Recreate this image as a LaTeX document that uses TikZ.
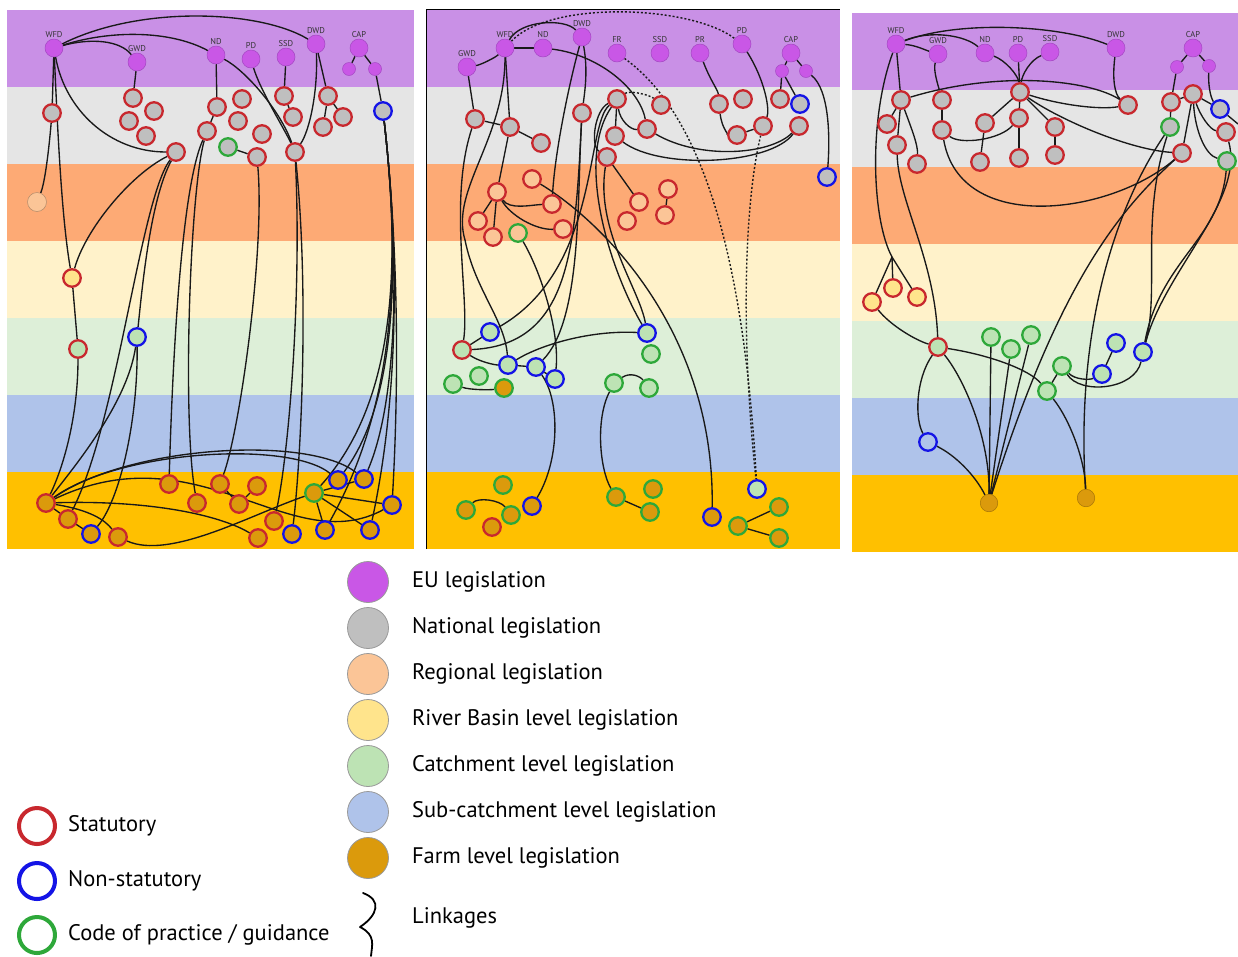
\documentclass[tikz,border=0pt]{standalone}
\usepackage{fontspec}
\setmainfont{PT Sans}
\usetikzlibrary{positioning}

\definecolor{bpur}{HTML}{C990E6}
\definecolor{bgry}{HTML}{E5E5E5}
\definecolor{bora}{HTML}{FDAA75}
\definecolor{byel}{HTML}{FFF2CA}
\definecolor{bgrn}{HTML}{DDEFD8}
\definecolor{bblu}{HTML}{AFC3EA}
\definecolor{bgld}{HTML}{FFC000}
\definecolor{eufill}{HTML}{C957E6}
\definecolor{eudraw}{HTML}{A447C2}
\definecolor{natfill}{HTML}{BFBFBF}
\definecolor{regfill}{HTML}{FBC597}
\definecolor{rbfill}{HTML}{FFE48C}
\definecolor{catfill}{HTML}{BDE3B4}
\definecolor{subfill}{HTML}{AFC3EA}
\definecolor{farmfill}{HTML}{DB9A0C}
\definecolor{statred}{HTML}{C8282E}
\definecolor{nstatblue}{HTML}{1414E6}
\definecolor{copgreen}{HTML}{2EA83A}

\pgfdeclarelayer{bands}
\pgfdeclarelayer{links}
\pgfsetlayers{bands,links,main}

% seven level bands of one panel: left, right, top
\newcommand{\lawbands}[3]{%
  \foreach \c [count=\i from 0] in {bpur,bgry,bora,byel,bgrn,bblu,bgld}
    \fill[\c] (#1,{#3+77*\i}) rectangle (#2,{#3+77*\i+77});
}

\begin{document}
\begin{tikzpicture}[x=1pt, y=-1pt, line cap=round, line join=round]
  \tikzset{
    law/.style={circle, inner sep=0pt, minimum size=17.5pt, line width=2.3pt},
    stat/.style={law, draw=statred},
    nstat/.style={law, draw=nstatblue},
    cop/.style={law, draw=copgreen},
    plain/.style={law, line width=0.5pt},
    eu/.style={circle, inner sep=0pt, minimum size=18pt, fill=eufill, draw=eudraw, line width=0.5pt},
    eusmall/.style={eu, minimum size=13pt},
    eulab/.style={font=\fontsize{8.5}{9}\selectfont, inner sep=1pt, text=black!80},
    natl/.style={fill=natfill}, regl/.style={fill=regfill}, rbl/.style={fill=rbfill},
    catl/.style={fill=catfill}, subl/.style={fill=subfill}, farml/.style={fill=farmfill},
    link/.style={draw=black!90, line width=1.35pt},
    dotlink/.style={link, line width=1.4pt, dash pattern=on 2pt off 2pt},
    legtxt/.style={font=\fontsize{22.5}{24}\selectfont, inner sep=0pt, anchor=west, text=black},
    legring/.style={circle, inner sep=0pt, minimum size=36pt, line width=4pt},
    legdot/.style={circle, inner sep=0pt, minimum size=41pt, draw=black!40, line width=0.8pt}
  }
  \useasboundingbox (0,0) rectangle (1238,956);

  \begin{pgfonlayer}{bands}
    \fill[white] (0,0) rectangle (1238,956);
    \lawbands{7}{414}{10}
    \lawbands{427}{840}{10}
    \lawbands{852}{1238}{13}
    \draw[black, line width=1.2pt] (426.5,549) -- (426.5,9.5) -- (840,9.5);
  \end{pgfonlayer}

  % ---------- panel 1 ----------
  \node[eu, label={[eulab]above:WFD}] (aWFD) at (54,48) {};
  \node[eu, label={[eulab]above:GWD}] (aGWD) at (137,62) {};
  \node[eu, label={[eulab]above:ND}] (aND) at (216,55) {};
  \node[eu, label={[eulab]above:PD}] (aPD) at (251,59) {};
  \node[eu, label={[eulab]above:SSD}] (aSSD) at (286,57) {};
  \node[eu, label={[eulab]above:DWD}] (aDWD) at (316,44) {};
  \node[eu, label={[eulab]above:CAP}] (aCAP) at (359,48) {};
  \node[eusmall] (aCAPl) at (349,69) {};
  \node[eusmall] (aCAPr) at (375,69) {};

  \foreach \n/\x/\y in {a1/52/113, a2/133/98, a3/154/111, a4/129/121, a5/146/136,
      a6/176/152, a7/217/107, a8/242/99, a9/238/121, a10/207/131, a11/262/134,
      a13/257/157, a14/284/96, a15/293/117, a16/295/152, a17/328/96, a18/343/117, a19/323/127}
    \node[stat, natl] (\n) at (\x,\y) {};
  \node[cop, natl] (a12) at (228,147) {};
  \node[nstat, natl] (a20) at (383,111) {};
  \node[plain, regl, draw=regfill!70!black, minimum size=19pt] (aR) at (37,202) {};
  \node[stat, rbl] (aY) at (72,278) {};
  \node[stat, catl] (aC1) at (78,349) {};
  \node[nstat, catl] (aC2) at (137,337) {};
  \foreach \n/\x/\y in {aF1/46/503, aF2/68/519, aF4/118/537, aF5/169/484, aF6/197/503,
      aF7/220/484, aF8/257/486, aF9/239/504, aF10/274/521, aF11/258/538}
    \node[stat, farml] (\n) at (\x,\y) {};
  \foreach \n/\x/\y in {aF3/91/534, aF12/292/534, aF14/338/480, aF15/364/479,
      aF16/392/505, aF17/325/530, aF18/370/530}
    \node[nstat, farml] (\n) at (\x,\y) {};
  \node[cop, farml] (aF13) at (314,493) {};

  % ---------- panel 2 ----------
  \node[eu, label={[eulab]above:GWD}] (bGWD) at (467,67) {};
  \node[eu, label={[eulab]above:WFD}] (bWFD) at (505,48) {};
  \node[eu, label={[eulab]above:ND}] (bND) at (543,48) {};
  \node[eu, label={[eulab]above:DWD}] (bDWD) at (582,37) {};
  \node[eu, label={[eulab]above:FR}] (bFR) at (617,53) {};
  \node[eu, label={[eulab]above:SSD}] (bSSD) at (660,53) {};
  \node[eu, label={[eulab]above:PR}] (bPR) at (700,53) {};
  \node[eu, label={[eulab]above:PD}] (bPD) at (742,44) {};
  \node[eu, label={[eulab]above:CAP}] (bCAP) at (791,53) {};
  \node[eusmall] (bCAPl) at (782,71) {};
  \node[eusmall] (bCAPr) at (806,71) {};

  \foreach \n/\x/\y in {b1/475/119, b2/510/127, b3/541/143, b4/582/113, b5/617/99,
      b6/661/105, b7/647/129, b8/615/136, b9/607/157, b10/719/104, b11/743/99,
      b12/737/135, b13/763/126, b14/780/99, b16/799/126}
    \node[stat, natl] (\n) at (\x,\y) {};
  \node[nstat, natl] (b15) at (800,104) {};
  \node[nstat, natl] (b17) at (827,177) {};
  \foreach \n/\x/\y in {bR1/532/179, bR2/497/192, bR3/552/204, bR4/478/221, bR5/493/237,
      bR6/563/229, bR8/639/202, bR9/627/221, bR10/668/189, bR11/665/215}
    \node[stat, regl] (\n) at (\x,\y) {};
  \node[cop, regl] (bR7) at (518,233) {};
  \foreach \n/\x/\y in {bC1/490/332, bC3/508/365, bC4/536/367, bC5/555/379, bC9/647/333}
    \node[nstat, catl] (\n) at (\x,\y) {};
  \node[stat, catl] (bC2) at (462,350) {};
  \foreach \n/\x/\y in {bC6/479/376, bC7/453/384, bC10/651/354, bC11/614/383, bC12/649/388}
    \node[cop, catl] (\n) at (\x,\y) {};
  \node[cop, farml] (bC8) at (504,388) {};
  \foreach \n/\x/\y in {bF1/503/485, bF2/466/510, bF3/511/515, bF6/616/497, bF7/653/489,
      bF8/650/512, bF11/779/507, bF12/738/526, bF13/779/538}
    \node[cop, farml] (\n) at (\x,\y) {};
  \node[stat, farml] (bF4) at (492,527) {};
  \node[nstat, farml] (bF5) at (532,506) {};
  \node[nstat, farml] (bF9) at (712,517) {};
  \node[nstat, catl] (bF10) at (757,489) {};

  % ---------- panel 3 ----------
  \node[eu, label={[eulab]above:WFD}] (cWFD) at (896,44) {};
  \node[eu, label={[eulab]above:GWD}] (cGWD) at (938,54) {};
  \node[eu, label={[eulab]above:ND}] (cND) at (985,53) {};
  \node[eu, label={[eulab]above:PD}] (cPD) at (1018,53) {};
  \node[eu, label={[eulab]above:SSD}] (cSSD) at (1050,52) {};
  \node[eu, label={[eulab]above:DWD}] (cDWD) at (1116,48) {};
  \node[eu, label={[eulab]above:CAP}] (cCAP) at (1193,48) {};
  \node[eusmall] (cCAPl) at (1177,67) {};
  \node[eusmall] (cCAPr) at (1209,66) {};

  \foreach \n/\x/\y in {c1/901/100, c2/887/124, c3/897/145, c4/917/164, c5/942/100,
      c6/942/130, c7/1020/92, c8/985/123, c9/1019/118, c10/1055/127, c11/980/162,
      c12/1019/158, c13/1055/155, c14/1128/105, c15/1171/102, c16/1193/94,
      c19/1226/132, c20/1182/153}
    \node[stat, natl] (\n) at (\x,\y) {};
  \node[cop, natl] (c17) at (1170,127) {};
  \node[nstat, natl] (c18) at (1220,109) {};
  \node[cop, natl] (c21) at (1227,161) {};
  \coordinate (cJ) at (892,257);
  \coordinate (cEdge) at (1238,124);
  \foreach \n/\x/\y in {cY1/872/302, cY2/893/288, cY3/917/297}
    \node[stat, rbl] (\n) at (\x,\y) {};
  \node[stat, catl] (cK1) at (938,347) {};
  \foreach \n/\x/\y in {cK2/991/337, cK3/1011/349, cK4/1031/335, cK5/1062/366, cK6/1047/391}
    \node[cop, catl] (\n) at (\x,\y) {};
  \foreach \n/\x/\y in {cK7/1116/343, cK8/1102/374, cK9/1143/352}
    \node[nstat, catl] (\n) at (\x,\y) {};
  \node[nstat, subl] (cB1) at (928,442) {};
  \node[plain, farml, draw=farmfill!75!black] (cFm1) at (989,503) {};
  \node[plain, farml, draw=farmfill!75!black] (cFm2) at (1086,498) {};

  \begin{pgfonlayer}{links}
    % panel 1
    \draw[link] (aWFD) .. controls (140,5) and (260,10) .. (aDWD);
    \draw[link] (aWFD) .. controls (90,38) and (120,40) .. (aGWD);
    \draw[link] (aWFD) .. controls (110,30) and (170,30) .. (aND);
    \draw[link] (aWFD) -- (a1);
    \draw[link] (aWFD) .. controls (65,110) and (110,152) .. (a6);
    \draw[link] (aWFD) .. controls (58,140) and (62,220) .. (aY);
    \draw[link] (a1) .. controls (48,160) and (44,185) .. (aR);
    \draw[link] (aGWD) -- (a2);
    \draw[link] (aND) -- (a7);
    \draw[link] (a7) -- (a10);
    \draw[link] (aND) .. controls (245,70) and (280,110) .. (a16);
    \draw[link] (aPD) .. controls (260,90) and (285,130) .. (a16);
    \draw[link] (aSSD) -- (a14);
    \draw[link] (a14) -- (a15);
    \draw[link] (aDWD) .. controls (318,90) and (310,130) .. (a16);
    \draw[link] (aDWD) -- (a17);
    \draw[link] (a17) -- (a19);
    \draw[link] (a17) -- (a18);
    \draw[link] (aCAP) -- (aCAPl);
    \draw[link] (aCAP) -- (aCAPr);
    \draw[link] (aCAPr) -- (a20);
    \draw[link] (a12) -- (a13);
    \draw[link] (a6) .. controls (130,175) and (85,230) .. (aY);
    \draw[link] (a6) .. controls (140,200) and (118,420) .. (aF2);
    \draw[link] (a6) .. controls (150,200) and (142,290) .. (aC2);
    \draw[link] (a10) .. controls (180,190) and (172,380) .. (aF5);
    \draw[link] (a10) .. controls (190,190) and (182,420) .. (aF6);
    \draw[link] (a13) .. controls (265,250) and (240,430) .. (aF7);
    \draw[link] (a16) .. controls (302,300) and (288,460) .. (aF10);
    \draw[link] (a16) .. controls (310,300) and (300,470) .. (aF12);
    \foreach \t in {aF13,aF14,aF15,aF16,aF17,aF18}
      \draw[link] (a20) .. controls (400,260) and (398,400) .. (\t);
    \draw[link] (aY) -- (aC1);
    \draw[link] (aC1) .. controls (78,420) and (62,470) .. (aF1);
    \draw[link] (aC2) .. controls (128,400) and (80,460) .. (aF1);
    \draw[link] (aC2) .. controls (138,420) and (120,500) .. (aF3);
    \draw[link] (aF1) -- (aF2);
    \draw[link] (aF2) -- (aF3);
    \draw[link] (aF1) .. controls (90,510) and (105,520) .. (aF4);
    \draw[link] (aF1) .. controls (120,450) and (290,440) .. (aF14);
    \draw[link] (aF1) .. controls (130,445) and (310,435) .. (aF15);
    \draw[link] (aF1) .. controls (200,430) and (290,560) .. (aF16);
    \draw[link] (aF1) .. controls (150,500) and (220,515) .. (aF11);
    \draw[link] (aF4) .. controls (170,560) and (250,515) .. (aF13);
    \draw[link] (aF7) -- (aF9);
    \draw[link] (aF9) -- (aF8);
    \foreach \t in {aF15,aF16,aF17,aF18}
      \draw[link] (aF13) -- (\t);

    % panel 2
    \draw[link] (bGWD) .. controls (480,65) and (495,58) .. (bWFD);
    \draw[link] (bWFD) -- (bND);
    \draw[link] (bWFD) .. controls (520,20) and (565,18) .. (bDWD);
    \draw[dotlink] (bWFD) .. controls (550,0) and (690,5) .. (bPD);
    \draw[link] (bGWD) -- (b1);
    \draw[link] (b1) -- (b2);
    \draw[link] (b2) -- (b3);
    \draw[link] (bWFD) -- (b2);
    \draw[link] (b2) -- (bR2);
    \draw[link] (b1) .. controls (448,200) and (470,300) .. (bC2);
    \draw[link] (bWFD) .. controls (505,140) and (450,190) .. (465,240)
      .. controls (475,290) and (505,320) .. (bC3);
    \draw[link] (bDWD) .. controls (570,80) and (555,150) .. (bR3);
    \draw[link] (bDWD) .. controls (588,70) and (585,90) .. (b4);
    \draw[link] (b4) .. controls (575,250) and (570,345) .. (bC2);
    \draw[link] (b4) .. controls (577,200) and (582,320) .. (bC4);
    \draw[link] (b5) .. controls (585,125) and (600,270) .. (bC1);
    \draw[link] (bND) .. controls (600,55) and (640,90) .. (b7);
    \draw[link] (b5) .. controls (620,120) and (630,130) .. (b7);
    \draw[link] (b5) -- (b8);
    \draw[link] (b5) .. controls (595,110) and (590,145) .. (b9);
    \draw[dotlink] (b5) .. controls (630,90) and (650,95) .. (b6);
    \draw[link] (b7) .. controls (700,160) and (770,155) .. (b16);
    \draw[link] (b8) .. controls (660,170) and (770,165) .. (b16);
    \draw[link] (b9) -- (bR8);
    \draw[link] (bPR) .. controls (710,80) and (718,90) .. (b10);
    \draw[link] (b10) .. controls (722,130) and (730,135) .. (b12);
    \draw[link] (b12) -- (b13);
    \draw[link] (bPD) .. controls (765,80) and (770,110) .. (b13);
    \draw[dotlink] (bFR) .. controls (710,120) and (745,280) .. (bF10);
    \draw[dotlink] (b13) .. controls (745,200) and (740,330) .. (bF10);
    \draw[link] (bCAP) -- (bCAPl);
    \draw[link] (bCAP) -- (bCAPr);
    \draw[link] (bCAPl) -- (b14);
    \draw[link] (bCAPl) -- (b15);
    \draw[link] (bCAPr) .. controls (830,90) and (830,140) .. (b17);
    \draw[link] (bR2) -- (bR4);
    \draw[link] (bR2) -- (bR5);
    \draw[link] (bR2) .. controls (510,210) and (530,205) .. (bR3);
    \draw[link] (bR2) .. controls (510,215) and (535,230) .. (bR6);
    \draw[link] (bR1) .. controls (600,220) and (715,330) .. (bF9);
    \draw[link] (b5) .. controls (575,160) and (610,270) .. (bC9);
    \draw[link] (b9) .. controls (595,230) and (640,290) .. (bC9);
    \draw[link] (bR10) -- (bR11);
    \draw[link] (bR7) .. controls (540,270) and (560,330) .. (bC5);
    \draw[link] (bC2) -- (bC1);
    \draw[link] (bC2) .. controls (480,362) and (495,365) .. (bC3);
    \draw[link] (bC3) .. controls (540,345) and (590,330) .. (bC9);
    \draw[link] (bC3) -- (bC4);
    \draw[link] (bC4) -- (bC5);
    \draw[link] (bC4) .. controls (560,400) and (560,460) .. (bF5);
    \draw[link] (bC7) .. controls (470,390) and (490,390) .. (bC8);
    \draw[link] (bC11) .. controls (630,372) and (640,376) .. (bC12);
    \draw[link] (bC11) .. controls (595,420) and (600,470) .. (bF6);
    \draw[link] (bF6) -- (bF8);
    \draw[link] (bF2) .. controls (478,497) and (500,500) .. (bF3);
    \draw[link] (bF12) -- (bF11);
    \draw[link] (bF12) -- (bF13);

    % panel 3
    \draw[link] (cWFD) .. controls (960,20) and (1060,25) .. (cDWD);
    \draw[link] (cWFD) .. controls (915,45) and (925,50) .. (cGWD);
    \draw[link] (cWFD) .. controls (930,30) and (965,35) .. (cND);
    \draw[link] (cWFD) -- (c1);
    \draw[link] (cWFD) .. controls (868,120) and (872,220) .. (cJ);
    \foreach \t in {cY1,cY2,cY3}
      \draw[link] (cJ) -- (\t);
    \draw[link] (c1) -- (c2);
    \draw[link] (c1) -- (c3);
    \draw[link] (c1) .. controls (912,130) and (918,145) .. (c4);
    \draw[link] (c3) .. controls (898,200) and (935,260) .. (cK1);
    \draw[link] (cGWD) .. controls (933,70) and (938,85) .. (c5);
    \draw[link] (c5) -- (c6);
    \draw[link] (c6) .. controls (960,145) and (1000,140) .. (c9);
    \draw[link] (c6) .. controls (960,235) and (1110,215) .. (c20);
    \draw[link] (cND) .. controls (1005,60) and (1018,75) .. (c7);
    \draw[link] (cPD) -- (c7);
    \draw[link] (cSSD) .. controls (1030,60) and (1022,75) .. (c7);
    \draw[link] (c1) .. controls (1000,70) and (1090,80) .. (c14);
    \draw[link] (c7) .. controls (1060,105) and (1100,110) .. (c14);
    \draw[link] (cDWD) .. controls (1112,80) and (1115,95) .. (c14);
    \draw[link] (c7) -- (c8);
    \draw[link] (c7) -- (c9);
    \draw[link] (c9) -- (c12);
    \draw[link] (c8) -- (c11);
    \draw[link] (c7) -- (c10);
    \draw[link] (c10) -- (c13);
    \draw[link] (c7) .. controls (1060,120) and (1130,150) .. (c20);
    \draw[link] (cCAP) -- (cCAPl);
    \draw[link] (cCAP) -- (cCAPr);
    \draw[link] (cCAPl) -- (c15);
    \draw[link] (c15) -- (c17);
    \draw[link] (c15) -- (c16);
    \draw[link] (cCAPr) .. controls (1208,90) and (1212,100) .. (c18);
    \draw[link] (c16) -- (c18);
    \draw[link] (c16) .. controls (1200,115) and (1210,130) .. (c19);
    \draw[link] (c16) .. controls (1195,130) and (1205,155) .. (c21);
    \draw[link] (c16) -- (c20);
    \draw[link] (c18) -- (cEdge);
    \draw[link] (c20) .. controls (1120,210) and (1060,280) .. (cFm1);
    \draw[link] (c17) .. controls (1120,200) and (1075,320) .. (cFm2);
    \draw[link] (c17) .. controls (1140,220) and (1160,290) .. (cK9);
    \draw[link] (c21) .. controls (1220,240) and (1160,260) .. (cK9);
    \draw[link] (c19) .. controls (1245,200) and (1165,270) .. (cK9);
    \draw[link] (cY1) .. controls (890,325) and (915,340) .. (cK1);
    \draw[link] (cK1) .. controls (915,380) and (915,420) .. (cB1);
    \draw[link] (cB1) .. controls (955,455) and (975,475) .. (cFm1);
    \draw[link] (cK1) .. controls (965,380) and (990,440) .. (cFm1);
    \draw[link] (cK1) .. controls (990,355) and (1030,370) .. (cK6);
    \foreach \t in {cK2,cK3,cK4}
      \draw[link] (\t) -- (cFm1);
    \draw[link] (cK6) .. controls (1070,420) and (1085,460) .. (cFm2);
    \draw[link] (cK6) -- (cK5);
    \draw[link] (cK5) .. controls (1075,380) and (1090,380) .. (cK8);
    \draw[link] (cK8) -- (cK7);
    \draw[link] (cK5) .. controls (1080,395) and (1135,390) .. (cK9);
  \end{pgfonlayer}

  % ---------- legend ----------
  \node[legring, draw=statred] (lgStat) at (37,826) {};
  \node[legring, draw=nstatblue] (lgNon) at (37,881) {};
  \node[legring, draw=copgreen] (lgCop) at (37,935) {};
  \node[legtxt, right=11pt of lgStat] (lgStatT) {Statutory};
  \node[legtxt, right=11pt of lgNon] (lgNonT) {Non-statutory};
  \node[legtxt, right=11pt of lgCop] (lgCopT) {Code of practice / guidance};

  \foreach \f/\t [count=\i from 0] in {eufill/EU legislation, natfill/National legislation,
      regfill/Regional legislation, rbfill/River Basin level legislation,
      catfill/Catchment level legislation, subfill/Sub-catchment level legislation,
      farmfill/Farm level legislation} {
    \node[legdot, fill=\f] (lgDot\i) at (368,{582+46*\i}) {};
    \node[legtxt, right=23pt of lgDot\i] (lgTxt\i) {\t};
  }
  \coordinate (lkTop) at (363,893);
  \coordinate (lkBot) at (371,956);
  \draw[line width=1.8pt] (lkTop) .. controls (382,900) and (378,915) .. (360,927)
    .. controls (376,935) and (372,945) .. (lkBot);
  \node[legtxt] (lgLink) at (412,918) {Linkages};
\end{tikzpicture}
\end{document}
